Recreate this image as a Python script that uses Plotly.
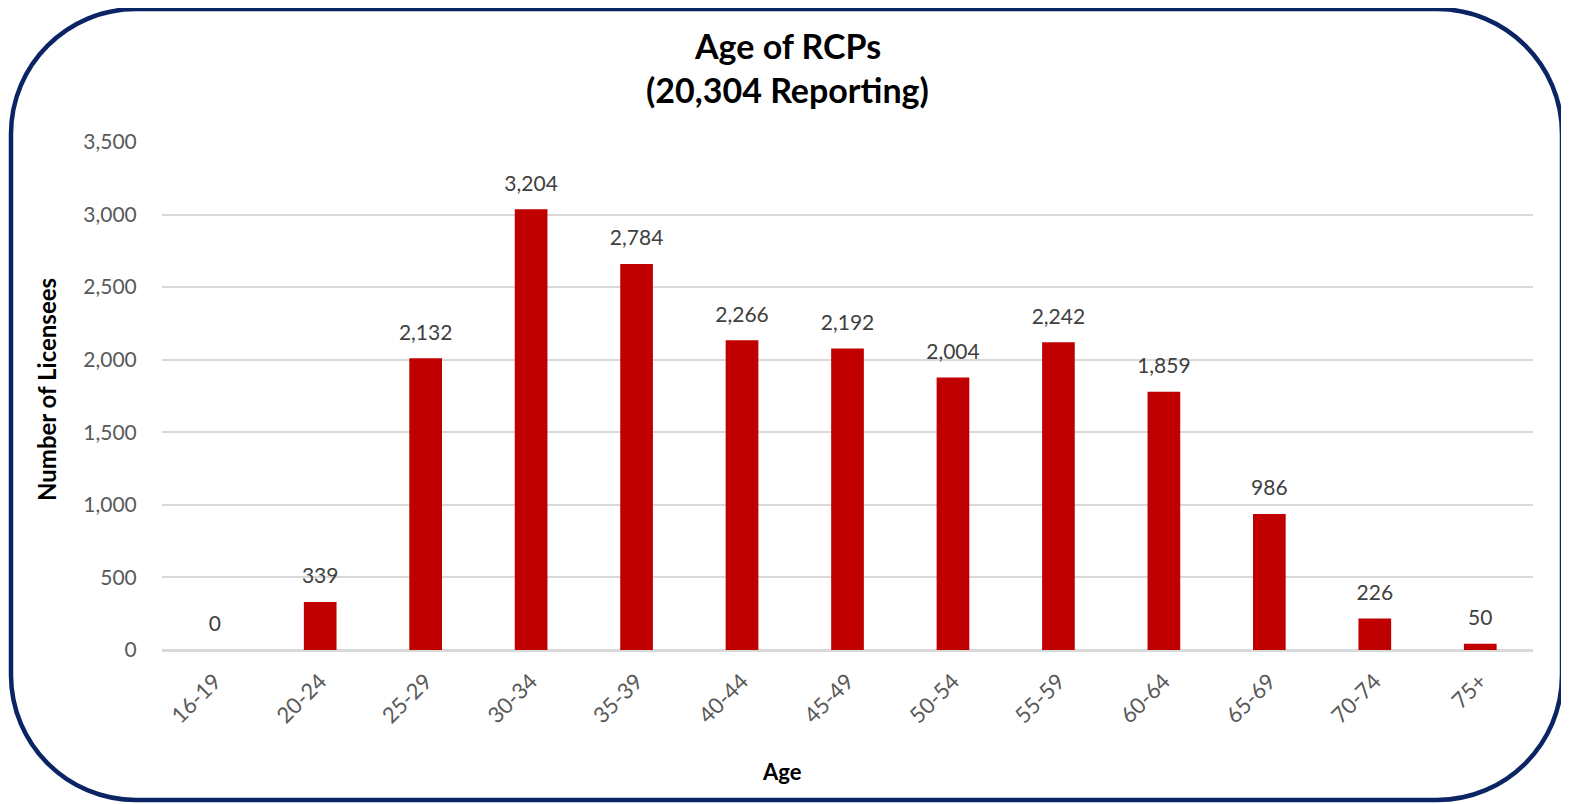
import plotly.graph_objects as go

categories = ["16-19", "20-24", "25-29", "30-34", "35-39", "40-44", "45-49",
              "50-54", "55-59", "60-64", "65-69", "70-74", "75+"]
bar_heights = [0, 331, 2010, 3036, 2660, 2134, 2077, 1877, 2120, 1780, 937, 217, 43]
label_texts = ["0", "339", "2,132", "3,204", "2,784", "2,266", "2,192",
               "2,004", "2,242", "1,859", "986", "226", "50"]
y_ticks = [0, 500, 1000, 1500, 2000, 2500, 3000, 3500]

OFF = 8  # default body margin of the html page
W, H = 1569 - OFF, 804 - OFF
# desired positions in page pixels, converted to figure pixels
L, R_EDGE, T, BOT = 162 - OFF, 1533 - OFF, 142 - OFF, 650 - OFF
PW, PH = R_EDGE - L, BOT - T

FONT = "Lato"

fig = go.Figure()
fig.add_trace(go.Bar(
    x=categories, y=bar_heights,
    marker=dict(color="#C00000", line=dict(width=0)),
    hoverinfo="skip", showlegend=False,
))
fig.add_trace(go.Scatter(
    x=categories, y=bar_heights, text=label_texts,
    mode="markers+text", textposition="top center",
    marker=dict(size=20, color="rgba(0,0,0,0)"),
    textfont=dict(family=FONT, size=21, color="#404040"),
    hoverinfo="skip", showlegend=False, cliponaxis=False,
))

def px2x(px):
    return (px - OFF - L) / PW

def px2y(py):
    return (BOT - (py - OFF)) / PH

# rounded border path in paper coordinates (page pixel positions)
x0, x1, y0, y1, r = 11, 1562, 9, 800, 125
k = 0.5523
def P(px, py):
    return f"{px2x(px):.5f},{px2y(py):.5f}"
path = (
    f"M {P(x0 + r, y0)} L {P(x1 - r, y0)} "
    f"C {P(x1 - r + k*r, y0)} {P(x1, y0 + r - k*r)} {P(x1, y0 + r)} "
    f"L {P(x1, y1 - r)} "
    f"C {P(x1, y1 - r + k*r)} {P(x1 - r + k*r, y1)} {P(x1 - r, y1)} "
    f"L {P(x0 + r, y1)} "
    f"C {P(x0 + r - k*r, y1)} {P(x0, y1 - r + k*r)} {P(x0, y1 - r)} "
    f"L {P(x0, y0 + r)} "
    f"C {P(x0, y0 + r - k*r)} {P(x0 + r - k*r, y0)} {P(x0 + r, y0)} Z"
)

fig.update_layout(
    width=W, height=H,
    margin=dict(l=L, r=W - R_EDGE, t=T, b=H - BOT),
    paper_bgcolor="white", plot_bgcolor="white",
    bargap=0.69,
    font=dict(family=FONT),
    shapes=[dict(type="path", xref="paper", yref="paper", path=path,
                 line=dict(color="#0B2463", width=4.5), layer="above")],
    annotations=[
        dict(text="<b>Age of RCPs</b>", xref="paper", yref="paper",
             x=px2x(787), y=px2y(46), showarrow=False,
             font=dict(family=FONT, size=34, color="#000000"), xanchor="center", yanchor="middle"),
        dict(text="<b>(20,304 Reporting)</b>", xref="paper", yref="paper",
             x=px2x(787), y=px2y(90), showarrow=False,
             font=dict(family=FONT, size=34, color="#000000"), xanchor="center", yanchor="middle"),
        dict(text="<b>Age</b>", xref="paper", yref="paper",
             x=px2x(782), y=px2y(771), showarrow=False,
             font=dict(family=FONT, size=22, color="#000000"), xanchor="center", yanchor="middle"),
        dict(text="<b>Number of Licensees</b>", xref="paper", yref="paper",
             x=px2x(46), y=px2y(390), showarrow=False, textangle=-90,
             font=dict(family=FONT, size=24, color="#000000"), xanchor="center", yanchor="middle"),
    ],
    xaxis=dict(
        range=[-0.5, len(categories) - 0.5],
        tickangle=-45, tickfont=dict(family=FONT, size=22, color="#595959"),
        showgrid=False, showline=True, linecolor="#D9D9D9", linewidth=1.5,
        ticks="outside", tickcolor="rgba(0,0,0,0)", ticklen=8, fixedrange=True,
    ),
    yaxis=dict(
        range=[0, 3500], tickvals=y_ticks, tickformat=",d",
        tickfont=dict(family=FONT, size=21, color="#595959"),
        showgrid=True, gridcolor="#D9D9D9", gridwidth=1.5,
        zeroline=True, zerolinecolor="#D9D9D9", zerolinewidth=1.5,
        ticks="outside", tickcolor="rgba(0,0,0,0)", ticklen=20,
        showline=False, fixedrange=True,
    ),
)

fig.write_html("out.html")
